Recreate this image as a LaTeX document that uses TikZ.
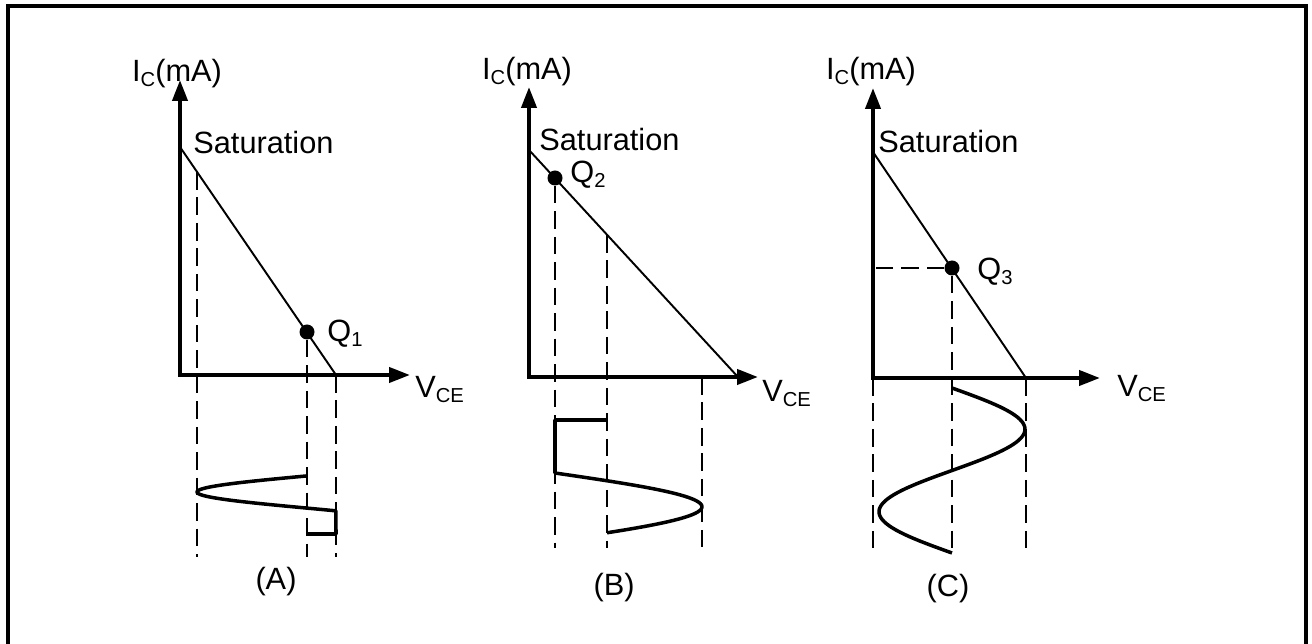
\documentclass[tikz,border=0pt]{standalone}
\usepackage{fontspec}
\setmainfont{Liberation Sans}
\usepackage{tikz}
\usetikzlibrary{arrows.meta,positioning}

\newcommand{\sbs}[1]{\raisebox{-0.25ex}{\fontsize{11.5}{12}\selectfont #1}}

\begin{document}
\begin{tikzpicture}[x=0.02cm,y=-0.02cm,
      every node/.style={font=\fontsize{17.5}{20}\selectfont,inner sep=0pt},
      axis/.style={line width=2.3pt,line join=miter,
                   {Triangle[length=0.42cm,width=0.3cm]}-{Triangle[length=0.42cm,width=0.3cm]}},
      load/.style={line width=1.1pt},
      guide/.style={line width=1.1pt,dash pattern=on 10pt off 4.5pt},
      wave/.style={line width=2pt,line join=round},
      dot/.style={circle,fill=black,minimum size=0.3cm,inner sep=0pt},
  ]
  \useasboundingbox (0,0) rectangle (1312,644);
  \draw[line width=2.3pt] (8,650) -- (8,6) -- (1306,6) -- (1306,650);

  % (A) cutoff
  \coordinate (oA) at (180,375);
  \coordinate (yA) at (180,80);
  \coordinate (xA) at (410,375);
  \coordinate (satA) at (180,147);
  \coordinate (cutA) at (336,375);
  \coordinate (lowA) at (197,557);
  \draw[axis] (yA) -- (oA) -- (xA);
  \draw[load] (satA) -- (cutA);
  \node[dot] (qA) at (307,332) {};
  \node[anchor=base] (icA) at (177,82) {I\sbs{C}(mA)};
  \node[anchor=west] (satlA) at (193,143) {Saturation};
  \node[anchor=base west] (qlA) at (327,342) {Q\sbs{1}};
  \node[anchor=base west] (vA) at (415,398) {V\sbs{CE}};
  \node (capA) at (276,582) {(A)};
  \draw[guide] (197,172) -- (lowA);
  \draw[guide] (qA) -- (qA |- lowA);
  \draw[guide] (cutA) -- (cutA |- lowA);
  \draw[wave] plot[domain=0:3.42,samples=50,variable=\t] ({306-109*sin(\t r)},{476+10.19*\t})
    -- (336,534) -- (307,534);

  % (B) saturation
  \coordinate (oB) at (529,377);
  \coordinate (yB) at (529,87);
  \coordinate (xB) at (758,377);
  \coordinate (satB) at (529,150);
  \coordinate (cutB) at (738,377);
  \coordinate (lowB) at (555,548);
  \draw[axis] (yB) -- (oB) -- (xB);
  \draw[load] (satB) -- (cutB);
  \node[dot] (qB) at (555,178) {};
  \node[anchor=base] (icB) at (527,80) {I\sbs{C}(mA)};
  \node[anchor=west] (satlB) at (539,140) {Saturation};
  \node[anchor=base west] (qlB) at (570,183) {Q\sbs{2}};
  \node[anchor=base west] (vB) at (762,402) {V\sbs{CE}};
  \node (capB) at (614,588) {(B)};
  \draw[guide] (qB) -- (lowB);
  \draw[guide] (607,235) -- (607,548);
  \draw[guide] (702,377) -- (702,548);
  \draw[wave] (607,420) -- (555,420) -- (555,473)
    -- plot[domain=0:2.78,samples=50,variable=\t] ({555+147*sin(\t r)},{473+21.5*\t});

  % (C) centred
  \coordinate (oC) at (873,378);
  \coordinate (yC) at (873,88);
  \coordinate (xC) at (1100,378);
  \coordinate (satC) at (873,152);
  \coordinate (cutC) at (1026,378);
  \coordinate (lowC) at (873,553);
  \draw[axis] (yC) -- (oC) -- (xC);
  \draw[load] (satC) -- (cutC);
  \node[dot] (qC) at (952,268) {};
  \node[anchor=base] (icC) at (871,80) {I\sbs{C}(mA)};
  \node[anchor=west] (satlC) at (878,142) {Saturation};
  \node[anchor=base west] (qlC) at (977,280) {Q\sbs{3}};
  \node[anchor=base west] (vC) at (1117,397) {V\sbs{CE}};
  \node (capC) at (948,589) {(C)};
  \draw[guide] (oC) -- (lowC);
  \draw[guide] (qC) -- (qC |- lowC);
  \draw[guide] (cutC) -- (cutC |- lowC);
  \draw[guide] (qC) -- (qC -| oC);
  \draw[wave] plot[domain=0:6.2832,samples=80,variable=\t] ({952+73*sin(\t r)},{388+26.26*\t});
\end{tikzpicture}
\end{document}
